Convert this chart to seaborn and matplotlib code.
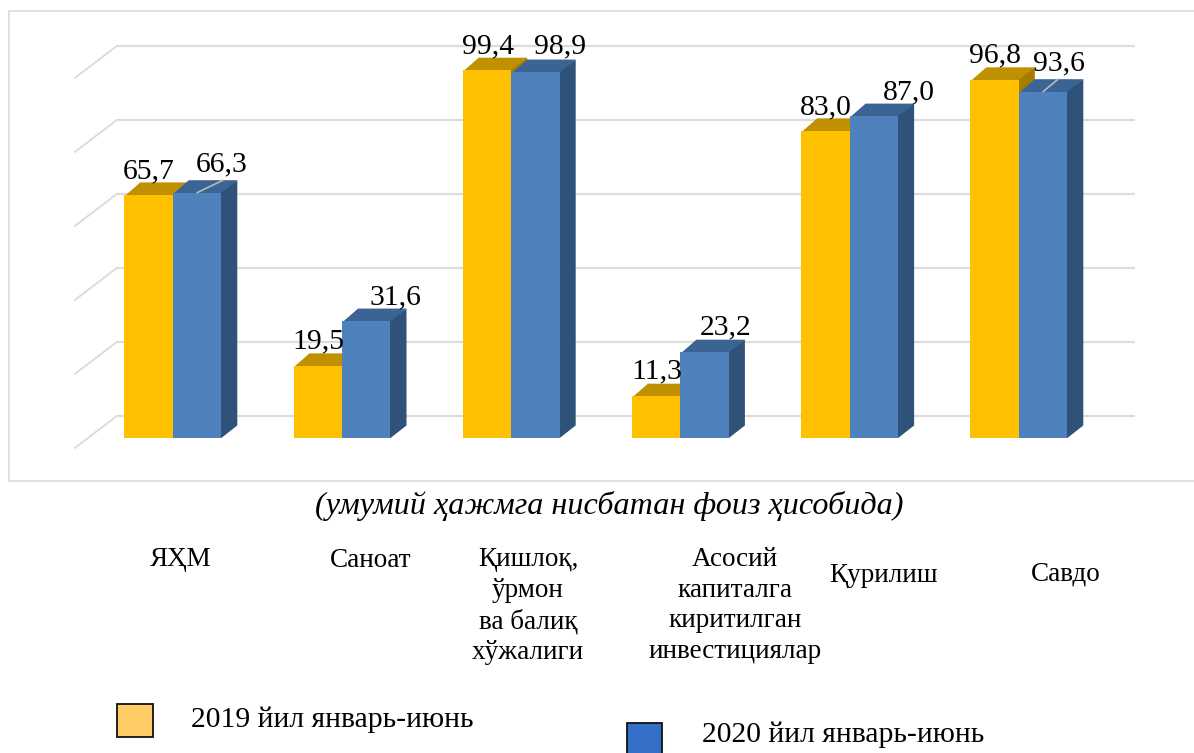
import matplotlib
matplotlib.use("Agg")
import matplotlib.pyplot as plt
import seaborn as sns
import pandas as pd
from matplotlib.patches import Polygon, Rectangle
from matplotlib.transforms import Affine2D

categories = ["ЯҲМ", "Саноат", "Қишлоқ,\nўрмон\nва балиқ\nхўжалиги",
              "Асосий\nкапиталга\nкиритилган\nинвестициялар", "Қурилиш", "Савдо"]
series_names = ["2019 йил январь-июнь", "2020 йил январь-июнь"]
values_2019 = [65.7, 19.5, 99.4, 11.3, 83.0, 96.8]
values_2020 = [66.3, 31.6, 98.9, 23.2, 87.0, 93.6]
grid_values = [0, 20, 40, 60, 80, 100]
note = "(умумий ҳажмга нисбатан фоиз ҳисобида)"

W, H = 1194, 753
YELLOW, BLUE = "#FFC000", "#4F81BD"
Y_TOP, Y_SIDE = "#BF9000", "#A67C00"
B_TOP, B_SIDE = "#3B6495", "#2F5279"
GRID = "#DCDCDC"

sns.set_theme(style="white")
plt.rcParams["font.family"] = ["Liberation Serif", "DejaVu Serif"]

fig = plt.figure(figsize=(W / 100, H / 100), dpi=100, facecolor="white")
px_x, px_y = 169.2, 3.70           # pixels per category, pixels per unit
left = 172.8 - 0.5 * px_x
bottom = 438
ax = fig.add_axes([left / W, (H - bottom) / H, 6 * px_x / W, bottom / H])

df = pd.DataFrame({
    "cat": list(range(6)) * 2,
    "val": values_2019 + values_2020,
    "ser": [series_names[0]] * 6 + [series_names[1]] * 6,
})
sns.barplot(data=df, x="cat", y="val", hue="ser", order=list(range(6)),
            palette=[YELLOW, BLUE], saturation=1, width=97 / px_x, gap=0,
            legend=False, ax=ax, linewidth=0, zorder=6)
ax.set_xlim(-0.5, 5.5)
ax.set_ylim(0, bottom / px_y)
ax.axis("off")

def dx(p): return p / px_x
def dy(p): return p / px_y

# back wall grid + receding lines
gx0, gx1 = dx(117 - 173), dx(1134 - 173)
base = dy(22)
for v in grid_values:
    ax.plot([gx0, gx1], [v + base, v + base], color=GRID, lw=1.6, zorder=1, clip_on=False)
    ax.plot([gx0 - dx(42), gx0], [v + base - dy(32), v + base], color=GRID, lw=1.4,
            zorder=1, clip_on=False)

# 3D faces built from the bars seaborn drew
D_X, D_Y = dx(16), dy(12.5)
lap_x, lap_y = dx(1.5), dy(1.5)     # slip faces under the front so no seam shows
styles = [(Y_TOP, Y_SIDE, 3), (B_TOP, B_SIDE, 4)]
bars = []
for cont, (ct, cs, z) in zip(ax.containers, styles):
    row = []
    for p in cont.patches:
        x, w, h = p.get_x(), p.get_width(), p.get_height()
        ax.add_patch(Polygon([(x, h - lap_y), (x + w, h - lap_y), (x + w + D_X, h + D_Y), (x + D_X, h + D_Y)],
                             closed=True, fc=ct, ec="none", zorder=z, clip_on=False))
        ax.add_patch(Polygon([(x + w - lap_x, 0), (x + w, 0), (x + w + D_X, D_Y), (x + w + D_X, h + D_Y),
                              (x + w, h), (x + w - lap_x, h)],
                             closed=True, fc=cs, ec="none", zorder=z, clip_on=False))
        row.append((x + w / 2, h))
    bars.append(row)

# value labels: horizontal and vertical nudges in pixels
nudges = [
    [(0, 17), (1, 17), (1, 16.5), (1, 17.5), (0, 17), (0, 17)],
    [(25, 21), (29, 16.5), (25, 18.5), (21, 17.5), (35, 16.5), (16, 21)],
]
for row, nud in zip(bars, nudges):
    for (xc, h), (nx, ny) in zip(row, nud):
        ax.text(xc + dx(nx), h + dy(ny), f"{h:.1f}".replace(".", ","), ha="center", va="baseline",
                fontsize=21.3, color="black", zorder=8, clip_on=False)

# leader lines on the two blue bars whose labels sit furthest from the bar
for i, (ex, ey) in {0: (26, 12.5), 5: (15, 12.5)}.items():
    xc, h = bars[1][i]
    ax.plot([xc, xc + dx(ex)], [h, h + dy(ey)], color="#B8B8B8", lw=1.2, zorder=7, clip_on=False)

# figure-level furniture in pixel coordinates
pix = Affine2D().scale(1, -1).translate(0, H)
def ftext(x, y, s, **kw):
    fig.text(x, y, s, transform=pix, color="black", **kw)

for seg in ([(9, 10.5), (W, 10.5)], [(9, 10.5), (9, 481)], [(9, 481), (W, 481)]):
    fig.add_artist(plt.Line2D([seg[0][0], seg[1][0]], [seg[0][1], seg[1][1]],
                              transform=pix, color="#DDDDDD", lw=1.3))

ftext(609, 506, note, fontsize=23.1, style="italic", ha="center", va="center")

cat_pos = [(181, 547), (371, 548), (528, 547), (735, 547), (884, 563), (1066, 562)]
for label, (x, y) in zip(categories, cat_pos):
    ftext(x, y, label, fontsize=19.5, ha="center", va="top", linespacing=1.30)

fig.add_artist(Rectangle((116.5, 703.5), 36, 33, transform=pix, fc="#FFCC66", ec="#111111", lw=1.3))
fig.add_artist(Rectangle((626.5, 722.5), 35, 36, transform=pix, fc="#3470C8", ec="#111111", lw=1.3))
ftext(191, 720, series_names[0], fontsize=21.3, ha="left", va="center")
ftext(702, 735, series_names[1], fontsize=21.3, ha="left", va="center")

fig.savefig("out.png", dpi=100, facecolor="white")
